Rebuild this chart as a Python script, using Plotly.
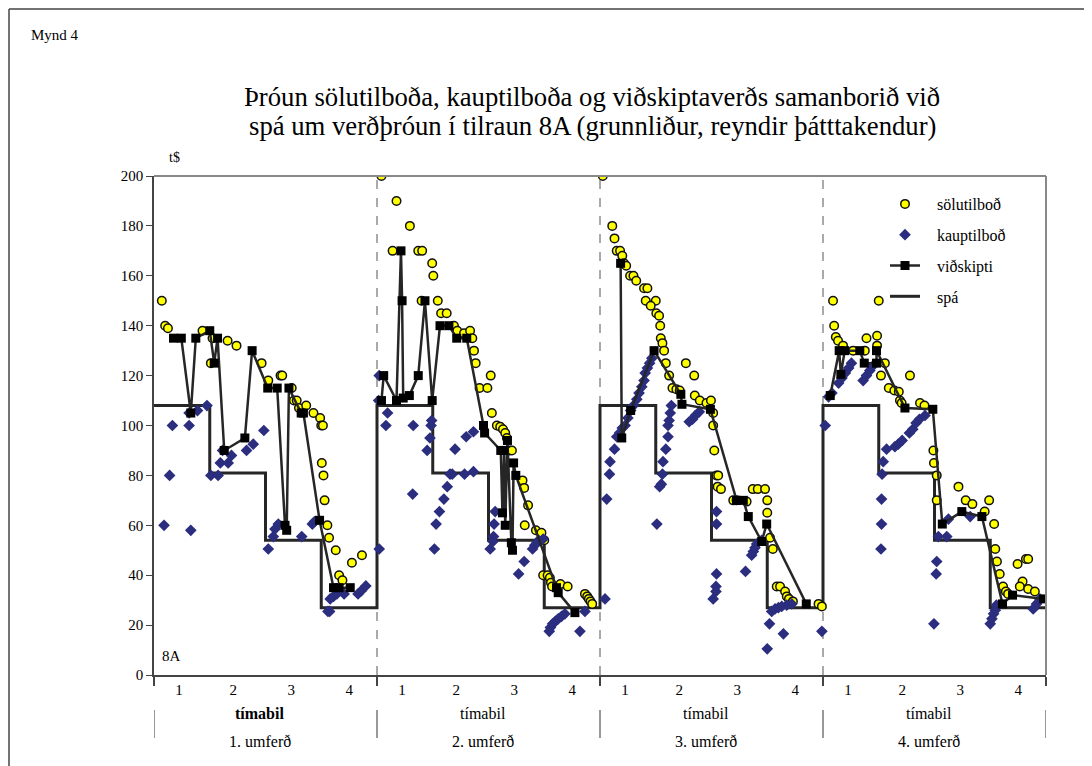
import plotly.graph_objects as go

# ---------------- data (x in period units: round r, period p spans 4*(r-1)+p-1 .. 4*(r-1)+p)
sell_x = [0.14, 0.2, 0.25, 0.87, 1.05, 1.02, 1.32, 1.48, 1.93, 2.05, 2.27, 2.3, 2.47, 2.51, 2.56, 2.6, 2.73,
          2.86, 2.98, 3.0, 3.03, 3.01, 3.04, 3.06, 3.11, 3.14, 3.26, 3.32, 3.38, 3.55, 3.73,
          4.08, 4.35, 4.59, 4.28, 4.74, 4.81, 4.99, 5.01, 4.8, 5.09, 5.15, 5.25, 5.38, 5.44, 5.56, 5.67,
          5.71, 5.74, 5.77, 6.04, 5.84, 5.98, 6.06, 6.15, 6.21, 6.26, 6.3, 6.33, 6.38, 6.42, 6.61, 6.64,
          6.71, 6.65, 6.85, 6.95, 7.0, 6.98, 7.06, 7.1, 7.12, 7.14, 7.29, 7.42, 7.73, 7.77, 7.8, 7.83, 7.86,
          8.05, 8.22, 8.26, 8.3, 8.36, 8.4, 8.43, 8.47, 8.54, 8.6, 8.65, 8.79, 8.85, 8.82, 9.0, 8.91, 9.01,
          9.06, 9.08, 9.09, 9.12, 9.15, 9.18, 9.24, 9.54, 9.69, 9.3, 9.37, 9.43, 9.7, 9.79, 9.91, 9.99,
          10.03, 10.03, 10.05, 10.09, 10.12, 10.11, 10.17, 10.39, 10.45, 10.63, 10.74, 10.83, 10.96, 11.0,
          11.0, 11.05, 11.1, 11.17, 11.23, 11.32, 11.35, 11.39, 11.46, 11.92, 11.98,
          12.18, 13.0, 12.2, 12.23, 12.27, 12.36, 12.54, 12.75, 12.78, 12.97, 12.97, 13.11, 13.04, 13.56,
          13.18, 13.28, 13.36, 13.38, 13.41, 13.74, 13.82, 13.98, 13.99, 14.04, 14.04, 14.43, 14.56, 14.68,
          14.98, 14.9, 15.07, 15.09, 15.12, 15.17, 15.23, 15.28, 15.32, 15.49, 15.64, 15.68, 15.58, 15.53,
          15.68, 15.8]
sell_y = [150, 140, 139, 138, 135, 125, 134, 132, 125, 118, 120, 120, 115, 110, 110, 107, 108,
          105, 103, 100, 100, 85, 80, 70, 60, 55, 50, 40, 38, 45, 48,
          200, 190, 180, 170, 170, 170, 165, 160, 150, 150, 145, 145, 140, 138, 137, 138,
          135, 130, 125, 120, 115, 115, 105, 100, 99.5, 98.5, 97, 95, 90, 90, 78, 75,
          68, 60, 58, 57, 54, 40, 40, 39, 37, 35.5, 36.5, 35.5, 32.5, 31.5, 30.5, 29.5, 28.5,
          200, 180, 175, 170, 170, 168, 165, 164, 160, 160, 158, 155, 155, 150, 150, 148, 145,
          144, 140, 135, 133, 130, 125, 120, 125, 120, 115, 114.5, 114, 112, 110, 109, 110,
          105, 100, 90, 80, 80, 75.5, 74.5, 70, 70, 69.5, 74.5, 74.5, 74.5, 70,
          65, 55, 50.5, 35.5, 35.5, 33.5, 31.5, 30.5, 29.5, 28.5, 27.5,
          150, 150, 140, 135.5, 134, 132, 130, 130, 135, 136, 132, 125, 120, 120,
          115, 114, 113.5, 110, 109, 109, 108, 90, 85, 80, 70, 75.5, 70, 68.5,
          70, 65.5, 60.5, 50.5, 45.5, 40.5, 35.5, 33.5, 32.5, 44.5, 46.5, 46.5, 37.5, 35.5,
          34.5, 33.5]

buy_x = [0.33, 0.63, 0.78, 0.63, 0.95, 0.28, 0.18, 0.66, 1.02, 1.15, 1.19, 1.33, 1.23, 1.39, 1.66, 1.78,
         1.97, 2.05, 2.14, 2.17, 2.23, 2.65, 2.84, 2.88, 3.12, 3.15, 3.16, 3.22, 3.28, 3.41, 3.66, 3.72, 3.8,
         4.03, 4.04, 4.19, 4.16, 4.65, 4.97, 4.98, 4.95, 4.9, 4.04, 4.64, 5.03, 5.06, 5.12, 5.2, 5.26,
         5.31, 5.35, 5.57, 5.73, 5.4, 5.6, 5.73, 6.03, 6.09, 6.08, 6.1, 6.12, 6.54, 6.64, 6.79, 6.83,
         6.87, 6.9, 6.98, 7.09, 7.11, 7.15, 7.2, 7.25, 7.31, 7.37, 7.64, 7.73,
         8.09, 8.12, 8.17, 8.18, 8.26, 8.3, 8.35, 8.4, 8.45, 8.5, 8.55, 8.6, 8.66, 8.7, 8.75, 8.79,
         8.81, 8.85, 8.89, 8.93, 9.02, 9.07, 9.1, 9.12, 9.13, 9.18, 9.22, 9.22, 9.24, 9.26, 9.28,
         9.6, 9.66, 9.71, 9.78, 10.09, 10.09, 10.09, 10.08, 10.08, 10.03, 10.61, 10.72, 10.75, 10.78,
         10.81, 10.9, 11.04, 11.0, 11.08, 11.14, 11.2, 11.26, 11.35, 11.44, 11.29, 11.98,
         12.04, 12.1, 12.16, 12.28, 12.34, 12.4, 12.46, 12.51, 12.72, 12.78, 12.84, 12.9, 13.05, 13.05,
         13.04, 13.06, 13.08, 13.14, 13.29, 13.35, 13.42, 13.55, 13.61, 13.67, 13.73, 13.83, 14.04,
         14.03, 13.99, 14.07, 14.22, 14.25, 14.64, 15.0, 15.03, 15.06, 15.09, 15.11, 15.77, 15.83, 15.89]
buy_y = [100, 100, 106, 105, 108, 80, 60, 58, 80, 80, 85, 85, 90, 88, 90, 92.5,
         98, 50.5, 55.5, 58.5, 60.5, 55.5, 60.5, 61.5, 25.5, 25.5, 30.5, 31.5, 32.5, 32.5, 32.5, 33.8, 35.7,
         110, 120, 105, 100, 100, 100, 102, 95, 90, 50.5, 72.5, 50.5, 60.5, 65.5, 70.5, 75.5,
         80.5, 80.5, 80.5, 81.5, 90.5, 95.5, 97.5, 50.5, 55.5, 53.5, 60.5, 65.5, 40.5, 45.5, 50.5, 52,
         53, 54, 54.5, 17.5, 19, 20.5, 21.5, 22.5, 23.5, 24.5, 17.5, 25.5,
         30.5, 70.5, 80.5, 85.5, 90.5, 95.5, 97, 99, 100, 103, 106, 108, 110.5, 113, 115.5, 118,
         121, 123, 125, 127, 60.5, 75.5, 76.5, 80.5, 85.5, 90.5, 95.5, 100, 102, 105, 108,
         101.5, 102.5, 104, 105.5, 65.5, 60.5, 40.5, 35.5, 33.5, 30.5, 41.5, 48, 49.5, 51,
         52.5, 54, 20.5, 10.5, 25.5, 26.5, 27, 27.5, 28, 28.5, 16.5, 17.5,
         100, 111.5, 113, 117, 119, 121, 123, 125, 118, 120, 122, 124, 70.5, 60.5,
         50.5, 80.5, 85.5, 90.5, 91.5, 92.5, 94, 97, 98.5, 101, 102.5, 104, 45.5,
         40.5, 20.5, 55.5, 55.5, 62.5, 63.5, 20.5, 22.5, 24.5, 26, 28, 26.5, 28.5, 30.5]

# transactions, one list per round (rounds are not connected)
trade_x_r1 = [0.35, 0.49, 0.66, 0.75, 1.0, 1.08, 1.14, 1.26, 1.63, 1.76, 2.04, 2.21, 2.35, 2.38, 2.42,
              2.64, 2.68, 2.97, 3.22, 3.32, 3.52]
trade_y_r1 = [135, 135, 105, 135, 138, 125, 135, 90, 95, 130, 115, 115, 60, 58, 115,
              105, 105, 62, 35, 35, 35]
trade_x_r2 = [4.08, 4.12, 4.35, 4.43, 4.45, 4.47, 4.58, 4.74, 4.86, 4.99, 5.13, 5.29, 5.43, 5.61, 5.91,
              5.93, 6.22, 6.25, 6.28, 6.3, 6.34, 6.41, 6.43, 6.45, 6.49, 7.22, 7.25, 7.55]
trade_y_r2 = [110, 120, 110, 170, 150, 111, 112, 120, 150, 110, 140, 140, 135, 135, 100,
              97, 90, 65, 90, 60, 94, 53, 50, 85, 80, 35, 33, 25]
trade_x_r3 = [8.37, 8.39, 8.55, 8.97, 9.45, 9.47, 9.98, 10.45, 10.57, 10.66, 10.9, 10.99, 11.7]
trade_y_r3 = [165, 95, 106, 130, 112.5, 108.5, 106.5, 70, 70, 63.5, 53.5, 60.5, 28.5]
trade_x_r4 = [12.13, 12.29, 12.32, 12.39, 12.66, 12.74, 12.96, 12.96, 13.47, 13.97, 14.14, 14.49, 14.85,
              15.22, 15.4, 15.96]
trade_y_r4 = [112, 130, 120.5, 130, 130, 125, 125, 130, 107, 106.5, 60.5, 65.5, 63.5,
              28.5, 32, 30.5]

# forecast (spá) per period within each round
spa_levels = [108, 81, 54, 27]
n_rounds = 4

period_labels = ["1", "2", "3", "4"]
period_label_offsets = [0.45, 1.42, 2.46, 3.5]
round_labels = ["1. umferð", "2. umferð", "3. umferð", "4. umferð"]
period_word = "tímabil"
series_names = ["sölutilboð", "kauptilboð", "viðskipti", "spá"]

title_lines = ["Þróun sölutilboða, kauptilboða og viðskiptaverðs samanborið við",
               "spá um verðþróun í tilraun 8A (grunnliður, reyndir þátttakendur)"]

# ---------------- build
spa_x, spa_y = [], []
for r in range(n_rounds):
    for p, lev in enumerate(spa_levels):
        spa_x.append(4 * r + p)
        spa_y.append(lev)
spa_x.append(4 * n_rounds)
spa_y.append(spa_levels[-1])

trade_x, trade_y = [], []
for xs, ys in [(trade_x_r1, trade_y_r1), (trade_x_r2, trade_y_r2),
               (trade_x_r3, trade_y_r3), (trade_x_r4, trade_y_r4)]:
    trade_x += xs + [None]
    trade_y += ys + [None]

FONT = "Liberation Serif"
OFF = 8  # page body margin
W, H = 1092 - OFF, 766 - OFF
PX0, PX1, PY0, PY1 = 154, 1046, 176, 675  # plot area in screen pixels
L, T = PX0 - OFF, PY0 - OFF
R, B = W - (PX1 - OFF), H - (PY1 - OFF)
PW, PH = PX1 - PX0, PY1 - PY0


def fx(px):
    return (px - PX0) / PW


def fy(py):
    return (PY1 - py) / PH


PAD = "\u00a0\u00a0\u00a0"  # small gap between legend symbol and text

fig = go.Figure()
fig.add_trace(go.Scatter(x=spa_x, y=spa_y, mode="lines", name=PAD + series_names[3], line_shape="hv",
                         line=dict(color="#262626", width=3), legendrank=4, legendgroup="d"))
fig.add_trace(go.Scatter(x=sell_x, y=sell_y, mode="markers", name=PAD + series_names[0], legendrank=1,
                         legendgroup="a",
                         marker=dict(symbol="circle", size=8.5, color="#FFFF00",
                                     line=dict(color="#111111", width=1.5))))
fig.add_trace(go.Scatter(x=buy_x, y=buy_y, mode="markers", name=PAD + series_names[1], legendrank=2,
                         legendgroup="b",
                         marker=dict(symbol="diamond", size=9, color="#2B2D7E", line=dict(width=0))))
fig.add_trace(go.Scatter(x=trade_x, y=trade_y, mode="lines+markers", name=PAD + series_names[2],
                         legendrank=3, legendgroup="c", connectgaps=False,
                         line=dict(color="#262626", width=2.5),
                         marker=dict(symbol="square", size=9, color="#000000")))

shapes = []
for r in range(1, n_rounds):
    shapes.append(dict(type="line", xref="x", yref="y", x0=4 * r, x1=4 * r, y0=0, y1=200,
                       line=dict(color="#555555", width=1, dash="dash"), layer="below"))
shapes.append(dict(type="line", xref="paper", yref="paper", x0=0, x1=1, y0=1, y1=1,
                   line=dict(color="#888888", width=2)))
shapes.append(dict(type="line", xref="paper", yref="paper", x0=1, x1=1, y0=0, y1=1,
                   line=dict(color="#888888", width=2)))
for r in range(n_rounds + 1):
    shapes.append(dict(type="line", xref="x", yref="paper", x0=4 * r, x1=4 * r,
                       y0=fy(710), y1=fy(738), line=dict(color="#333333", width=1)))
shapes.append(dict(type="line", xref="paper", yref="paper", x0=fx(9), x1=fx(1100), y0=fy(9), y1=fy(9),
                   line=dict(color="#444444", width=1.5)))
shapes.append(dict(type="line", xref="paper", yref="paper", x0=fx(9), x1=fx(9), y0=fy(9), y1=fy(780),
                   line=dict(color="#444444", width=1.5)))

annotations = [
    dict(text="Mynd 4", x=fx(29), y=fy(35), xref="paper", yref="paper", showarrow=False,
         xanchor="left", yanchor="middle", font=dict(family=FONT, size=15, color="#000")),
    dict(text="t$", x=fx(167), y=fy(158), xref="paper", yref="paper", showarrow=False,
         xanchor="left", yanchor="middle", font=dict(family=FONT, size=14, color="#000")),
    dict(text="8A", x=fx(160), y=fy(656), xref="paper", yref="paper", showarrow=False,
         xanchor="left", yanchor="middle", font=dict(family=FONT, size=15, color="#000")),
]
for i, line in enumerate(title_lines):
    annotations.append(dict(text=line, x=fx(592), y=fy(97 + 29 * i), xref="paper", yref="paper",
                            showarrow=False, xanchor="center", yanchor="middle",
                            font=dict(family=FONT, size=26.7, color="#000")))
for r in range(n_rounds):
    word = "<b>" + period_word + "</b>" if r == 0 else period_word
    annotations.append(dict(text=word, x=4 * r + 1.9, y=fy(713), xref="x", yref="paper",
                            showarrow=False, xanchor="center", yanchor="middle",
                            font=dict(family=FONT, size=16, color="#000")))
    annotations.append(dict(text=round_labels[r], x=4 * r + 1.9, y=fy(741), xref="x", yref="paper",
                            showarrow=False, xanchor="center", yanchor="middle",
                            font=dict(family=FONT, size=16, color="#000")))

tickvals, ticktext = [], []
for r in range(n_rounds):
    for off, lab in zip(period_label_offsets, period_labels):
        tickvals.append(4 * r + off)
        ticktext.append(lab)

fig.update_layout(
    width=W, height=H,
    margin=dict(l=L, r=R, t=T, b=B),
    paper_bgcolor="white", plot_bgcolor="white",
    font=dict(family=FONT, size=14, color="#000"),
    showlegend=True,
    legend=dict(x=fx(885), y=fy(187), xanchor="left", yanchor="top", bgcolor="rgba(0,0,0,0)",
                font=dict(family=FONT, size=16), tracegroupgap=7, itemwidth=30),
    shapes=shapes,
    annotations=annotations,
    xaxis=dict(range=[0, 16], showgrid=False, zeroline=False, showline=True, linecolor="#444444",
               linewidth=2, tickmode="array", tickvals=tickvals, ticktext=ticktext, ticks="",
               tickfont=dict(family=FONT, size=15),
               minor=dict(tickmode="array", tickvals=[0, 4, 8, 12, 16], ticks="outside", ticklen=9,
                          tickcolor="#444444", tickwidth=1.5, showgrid=False)),
    yaxis=dict(range=[0, 200], showgrid=False, zeroline=False, showline=True, linecolor="#444444",
               linewidth=1.5, tickmode="array", tickvals=list(range(0, 201, 20)), ticks="outside",
               ticklen=6, tickcolor="#444444", tickfont=dict(family=FONT, size=15)),
)

fig.write_html("out.html")
